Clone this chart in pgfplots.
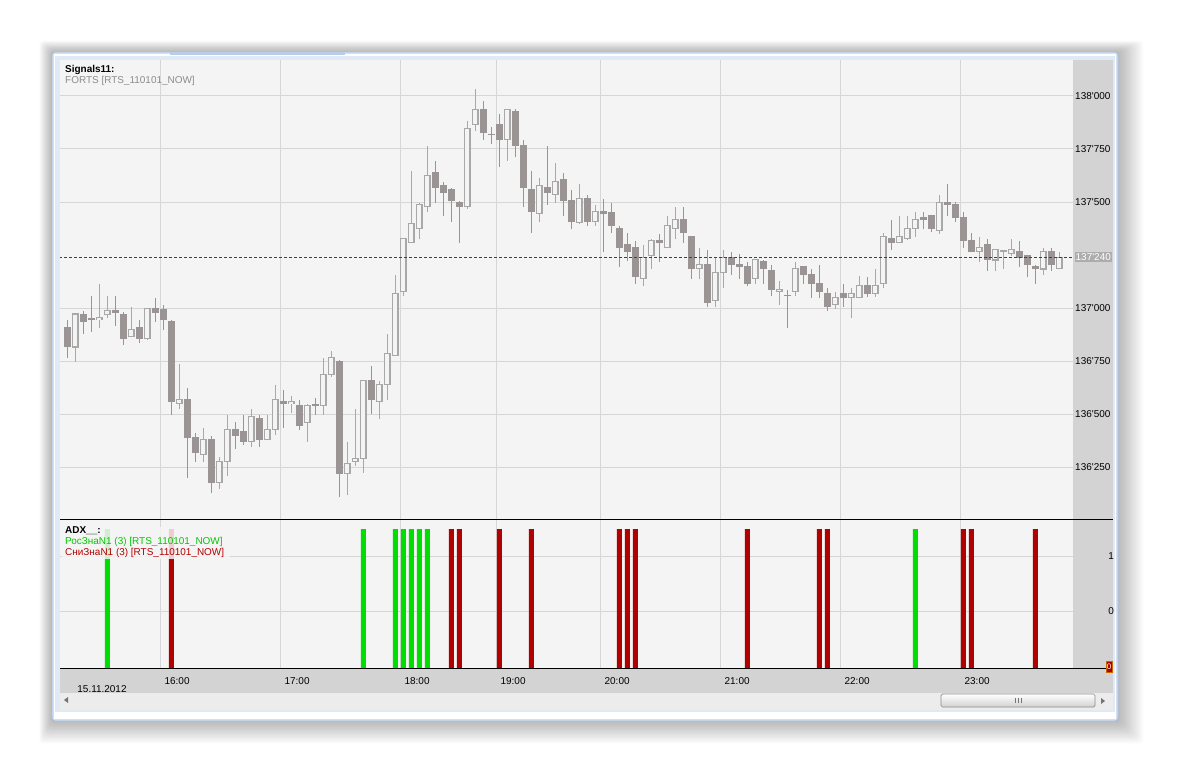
\documentclass[border=0pt]{standalone}
\usepackage{pgfplots}
\pgfplotsset{compat=1.18}
\usepackage{pgfplotstable}
\usepackage{fontspec}
\setmainfont{Liberation Sans}
\newcommand\q{\textquotesingle}
\newcommand\uif{\fontsize{10}{11}\selectfont}

\definecolor{plotbg}{HTML}{F4F4F4}
\definecolor{band}{HTML}{D3D3D3}
\definecolor{gridcol}{HTML}{D6D6D6}
\definecolor{bullcol}{HTML}{A8A8A8}
\definecolor{bearcol}{HTML}{9A9494}
\definecolor{sgreen}{HTML}{00DD00}
\definecolor{sred}{HTML}{B00000}
\definecolor{tgreen}{HTML}{00C800}
\definecolor{tred}{HTML}{B40000}
\definecolor{frameblue}{HTML}{D3E0F2}
\definecolor{frameline}{HTML}{A7BCD9}
\definecolor{tabblue}{HTML}{B9CDE8}
\definecolor{scrollrow}{HTML}{ECECEC}
\definecolor{lastlbl}{HTML}{ADADAD}

\pgfplotsset{candle/.style={only marks, mark=*, mark size=0pt,
    mark options={draw=none, fill=none}}}

% candles: index, open, high, low, close
\pgfplotstableread{
i o h l c
1 136817 136978 136747 136972
4 136947 137113 136907 136956
5 136970 137057 136954 136989
8 136866 137005 136866 136900
10 136855 136998 136848 136998
14 136550 136736 136525 136569
17 136310 136434 136275 136381
19 136178 136296 136146 136277
20 136277 136495 136209 136428
23 136371 136523 136346 136489
25 136381 136495 136381 136428
26 136428 136635 136400 136569
28 136550 136585 136506 136558
30 136461 136548 136369 136541
32 136541 136763 136497 136687
33 136687 136797 136676 136767
35 136221 136367 136120 136267
36 136277 136523 136255 136291
37 136291 136660 136221 136659
39 136560 136656 136478 136641
40 136641 136877 136569 136786
41 136777 137156 136777 137069
42 137079 137329 137058 137329
43 137310 137646 137310 137399
44 137376 137494 137327 137489
45 137480 137764 137454 137626
50 137478 137882 137468 137848
51 137866 138033 137836 137937
55 137796 137937 137695 137937
59 137447 137613 137407 137579
61 137536 137684 137497 137598
64 137402 137585 137398 137517
66 137409 137484 137388 137456
72 137140 137297 137105 137239
73 137249 137324 137185 137319
75 137286 137434 137286 137390
76 137376 137476 137325 137418
79 137187 137282 137138 137206
81 137036 137237 137006 137168
82 137168 137274 137096 137239
86 137140 137234 137113 137231
89 137079 137127 137016 137088
91 137079 137217 137058 137187
96 137016 137077 136997 137050
98 137049 137094 136954 137069
99 137049 137154 137049 137107
101 137069 137184 137053 137107
102 137117 137355 137098 137338
104 137310 137434 137310 137338
105 137329 137434 137319 137376
106 137376 137453 137336 137418
109 137367 137534 137348 137499
114 137267 137335 137218 137286
116 137228 137280 137176 137277
117 137266 137274 137185 137271
118 137258 137324 137247 137277
122 137185 137283 137157 137267
124 137185 137264 137185 137239
}\bulls

\pgfplotstableread{
i o h l c
0 136910 136943 136764 136817
2 136972 136986 136879 136935
3 136950 137058 136888 136946
6 136990 137057 136917 136978
7 136972 136983 136827 136855
9 136910 136943 136836 136855
11 136998 137047 136935 136978
12 136998 137016 136898 136945
13 136939 136943 136497 136558
15 136571 136626 136200 136388
16 136392 136412 136275 136317
18 136382 136396 136129 136176
21 136428 136464 136336 136398
22 136418 136495 136354 136369
24 136480 136495 136346 136379
27 136560 136613 136435 136549
29 136541 136566 136425 136445
31 136550 136577 136497 136539
34 136750 136755 136109 136219
38 136660 136726 136499 136569
46 137642 137693 137497 137567
47 137579 137593 137435 137544
48 137561 137567 137407 137506
49 137500 137505 137308 137478
52 137937 137976 137794 137827
53 137822 137854 137775 137818
54 137868 137917 137667 137794
56 137928 137942 137714 137766
57 137769 137792 137478 137567
58 137561 137646 137355 137454
60 137569 137764 137487 137544
62 137609 137637 137435 137506
63 137509 137557 137374 137407
65 137517 137533 137388 137407
67 137456 137514 137266 137445
68 137456 137495 137355 137388
69 137377 137387 137195 137283
70 137302 137354 137223 137266
71 137286 137316 137113 137148
74 137321 137349 137218 137308
77 137418 137476 137308 137355
78 137340 137343 137138 137185
80 137208 137274 137006 137025
83 137239 137264 137156 137204
84 137208 137255 137138 137195
85 137198 137216 137105 137115
87 137222 137226 137113 137185
88 137179 137203 137058 137086
90 137062 137085 136907 137057
92 137198 137198 137115 137157
93 137160 137184 137049 137115
94 137118 137203 137049 137077
95 137071 137094 136987 137006
97 137069 137113 137006 137049
100 137107 137145 137053 137068
103 137329 137415 137274 137308
107 137428 137453 137376 137418
108 137439 137439 137357 137374
110 137499 137585 137435 137487
111 137491 137501 137407 137426
112 137429 137453 137284 137319
113 137321 137354 137267 137267
115 137302 137324 137176 137228
119 137269 137316 137193 137239
120 137249 137249 137148 137204
121 137198 137204 137115 137185
123 137269 137283 137176 137204
}\bears

\begin{document}
\begin{tikzpicture}[x=1bp,y=-1bp]
\useasboundingbox (0,0) rectangle (1177,774);
\fill[white] (0,0) rectangle (1177,774);
% window shadow
\foreach \k in {1,...,14}
  \fill[black,opacity=0.018,rounded corners=4bp] (52-0.9*\k,52-0.8*\k) rectangle (1118+1.8*\k,721+1.6*\k);
% window frame
\fill[frameblue,draw=frameline,line width=0.8bp,rounded corners=3bp] (52,52) rectangle (1118,721);
\fill[white] (54,54) rectangle (1116,719);
\fill[frameblue!70] (55,56) rectangle (1115,712);
\fill[tabblue] (170,52) rectangle (345,55);
% bands
\fill[band] (1073,60) rectangle (1113,519);
\fill[band] (1073,519) rectangle (1113,668);
\fill[band] (60,668) rectangle (1113,693);
\fill[scrollrow] (60,693) rectangle (1113,710);

\begin{axis}[
    at={(60bp,-519bp)}, anchor=south west,
    scale only axis, width=1013bp, height=459bp,
    xmin=-0.9125, xmax=125.7125,
    ymin=136004.7, ymax=138169.8,
    scaled y ticks=false,
    axis background/.style={fill=plotbg},
    axis line style={draw=none},
    major tick length=0pt,
    xtick={11.6,26.6,41.6,53.6,66.6,81.6,96.6,111.6},
    xticklabels={},
    ytick={136250,136500,136750,137000,137500,137750,138000},
    yticklabels={136\q250,136\q500,136\q750,137\q000,137\q500,137\q750,138\q000},
    yticklabel pos=right,
    yticklabel style={anchor=west, inner sep=0pt, xshift=2bp, font=\fontsize{10}{11}\selectfont},
    xmajorgrids, ymajorgrids,
    grid style={draw=gridcol, line width=1bp},
]
% bearish candles
\addplot[candle, error bars/.cd, y dir=both, y explicit, error mark=none,
    error bar style={line width=1.3bp, color=bearcol}]
    table[x=i, y expr={(\thisrow{h}+\thisrow{l})/2}, y error expr={(\thisrow{h}-\thisrow{l})/2}] {\bears};
\addplot[candle, error bars/.cd, y dir=both, y explicit, error mark=none,
    error bar style={line width=6.5bp, color=bearcol}]
    table[x=i, y expr={(\thisrow{o}+\thisrow{c})/2}, y error expr={(\thisrow{o}-\thisrow{c})/2+1}] {\bears};
% bullish candles
\addplot[candle, error bars/.cd, y dir=both, y explicit, error mark=none,
    error bar style={line width=1.3bp, color=bullcol}]
    table[x=i, y expr={(\thisrow{h}+\thisrow{l})/2}, y error expr={(\thisrow{h}-\thisrow{l})/2}] {\bulls};
\addplot[candle, error bars/.cd, y dir=both, y explicit, error mark=none,
    error bar style={line width=6.5bp, color=bullcol}]
    table[x=i, y expr={(\thisrow{o}+\thisrow{c})/2}, y error expr={(\thisrow{c}-\thisrow{o})/2+2.83}] {\bulls};
\addplot[candle, error bars/.cd, y dir=both, y explicit, error mark=none,
    error bar style={line width=4.1bp, color=plotbg}]
    table[x=i, y expr={(\thisrow{o}+\thisrow{c})/2}, y error expr={max((\thisrow{c}-\thisrow{o})/2-2.83,0)}] {\bulls};
% last price
\addplot[black!75, line width=0.8bp, dash pattern=on 3bp off 2bp] coordinates {(-1,137240) (126,137240)};
\end{axis}

\begin{axis}[
    at={(60bp,-668bp)}, anchor=south west,
    scale only axis, width=1013bp, height=149bp,
    xmin=-0.9125, xmax=125.7125,
    ymin=0, ymax=2.709,
    axis background/.style={fill=plotbg},
    axis line style={draw=none},
    tick align=outside,
    xtick style={draw=gridcol, line width=1bp},
    ytick style={draw=none},
    major tick length=3bp,
    xtick={11.6,26.6,41.6,53.6,66.6,81.6,96.6,111.6},
    xticklabels={16:00,17:00,18:00,19:00,20:00,21:00,22:00,23:00},
    xticklabel style={anchor=center, inner sep=0pt, xshift=17bp, yshift=-10bp, font=\fontsize{10}{11}\selectfont},
    ytick={1.036,2.036},
    yticklabels={0,1},
    yticklabel pos=right,
    yticklabel style={anchor=east, inner sep=0pt, xshift=38bp, font=\fontsize{10}{11}\selectfont},
    xmajorgrids, ymajorgrids,
    grid style={draw=gridcol, line width=1bp},
]
\addplot[ybar, bar width=5bp, fill=sgreen, draw=none] coordinates {
  (5,2.527) (37,2.527) (41,2.527) (42,2.527) (43,2.527) (44,2.527) (45,2.527) (106,2.527)};
\addplot[ybar, bar width=5bp, fill=sred, draw=none] coordinates {
  (13,2.527) (48,2.527) (49,2.527) (54,2.527) (58,2.527) (69,2.527) (70,2.527) (71,2.527)
  (85,2.527) (94,2.527) (95,2.527) (112,2.527) (113,2.527) (121,2.527)};
\end{axis}

% panel borders
\draw[black, line width=1bp] (60,519) -- (1113,519);
\draw[black, line width=1bp] (60,668) -- (1113,668);
% legends
\node[anchor=west, inner sep=0pt, font=\uif\bfseries] at (65,70) {Signals11:};
\node[anchor=west, inner sep=0pt, font=\uif, text=black!45] at (65,81) {FORTS [RTS\_110101\_NOW]};
\fill[plotbg, opacity=0.85] (62,527) rectangle (230,559);
\node[anchor=west, inner sep=0pt, font=\uif\bfseries] at (65,531) {ADX\_\_:};
\node[anchor=west, inner sep=0pt, font=\uif, text=tgreen] at (65,542) {РосЗнаN1 (3) [RTS\_110101\_NOW]};
\node[anchor=west, inner sep=0pt, font=\uif, text=tred] at (65,553) {СниЗнаN1 (3) [RTS\_110101\_NOW]};
\node[inner sep=0pt, font=\fontsize{10}{11}\selectfont] at (102,689) {15.11.2012};
% last price label
\fill[lastlbl] (1075,252) rectangle (1112,262);
\node[anchor=west, inner sep=0pt, font=\fontsize{10}{11}\selectfont, text=white] at (1075.5,257) {137\q240};
% current signal label
\fill[sred, draw=orange!80!black, line width=0.5bp] (1106,661) rectangle (1112,672);
\node[inner sep=0pt, font=\fontsize{8}{9}\selectfont, text=white] at (1109,666.5) {0};
% scroll bar
\shade[top color=white, bottom color=black!18, draw=black!45, line width=0.7bp, rounded corners=1.5bp] (941,694) rectangle (1095,707);
\foreach \gx in {1015,1018,1021} \draw[black!55, line width=0.8bp] (\gx,698) -- (\gx,703);
\fill[black!55] (64,700) -- (68,697) -- (68,703) -- cycle;
\fill[black!55] (1105,701) -- (1101,698) -- (1101,704) -- cycle;
\end{tikzpicture}
\end{document}
